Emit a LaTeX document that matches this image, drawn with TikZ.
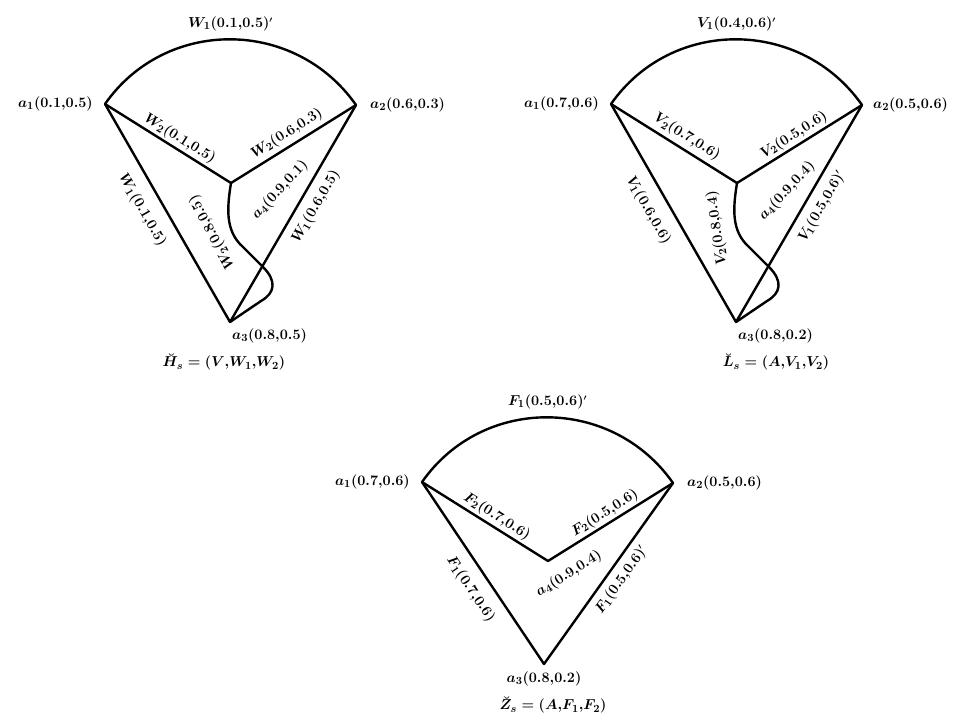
\documentclass[tikz,border=0pt]{standalone}
\usepackage{amsmath,amssymb}
\usetikzlibrary{positioning}
\tikzset{
  edge/.style={draw,line width=2.4pt,line cap=round,line join=round},
  lbl/.style={font=\fontsize{15.5}{17.5}\selectfont\boldmath,inner sep=2pt},
  captext/.style={lbl}
}
\newcommand{\pr}{^{\scriptscriptstyle\prime}}

\begin{document}
\begin{tikzpicture}[x=1pt,y=1pt]
\useasboundingbox (0,0) rectangle (957,-716);

% first graph: H_s
\begin{scope}[shift={(231,-183)}]
  \coordinate (h1) at (-126,79);
  \coordinate (h2) at (125,78);
  \coordinate (h3) at (-1,-139);
  \coordinate (h4) at (0,0);
  \draw[edge] (h1) to[out=55,in=125,looseness=1.08] node[lbl,midway,above=5pt] (h12) {$W_1(0.1{,}0.5)\pr$} (h2);
  \draw[edge] (h1) -- node[lbl,pos=.55,sloped,above] (h14) {$W_2(0.1{,}0.5)$} (h4);
  \draw[edge] (h4) -- node[lbl,pos=.5,sloped,above=2pt] (h42) {$W_2(0.6{,}0.3)$} (h2);
  \draw[edge] (h1) -- node[lbl,pos=.44,sloped,below=10pt] (h13) {$W_1(0.1{,}0.5)$} (h3);
  \draw[edge] (h3) -- node[lbl,pos=.57,sloped,below=6pt] (h32) {$W_1(0.6{,}0.5)$} (h2);
  \draw[edge] (h4) .. controls (-4,-25) and (-6,-48) .. (12,-64) -- (32,-84)
    .. controls (46,-98) and (44,-110) .. (30,-118) -- (h3);
  \node[lbl,rotate=118] (h43) at (-19,-49) {$W_2(0.8{,}0.5)$};
  \node[lbl,rotate=47] (h4l) at (49,-7) {$a_4(0.9{,}0.1)$};
  \node[lbl,left=10pt of h1] (h1l) {$a_1(0.1{,}0.5)$};
  \node[lbl,right=12pt of h2] (h2l) {$a_2(0.6{,}0.3)$};
  \node[lbl,below right=4pt and 0pt of h3] (h3l) {$a_3(0.8{,}0.5)$};
  \node[captext] (hcap) at (-7,-179) {$\breve{H}_s=(V{,}W_1{,}W_2)$};
\end{scope}

% second graph: L_s
\begin{scope}[shift={(737,-183)}]
  \coordinate (l1) at (-126,79);
  \coordinate (l2) at (125,78);
  \coordinate (l3) at (-1,-139);
  \coordinate (l4) at (0,0);
  \draw[edge] (l1) to[out=55,in=125,looseness=1.08] node[lbl,midway,above=5pt] (l12) {$V_1(0.4{,}0.6)\pr$} (l2);
  \draw[edge] (l1) -- node[lbl,pos=.55,sloped,above=2pt] (l14) {$V_2(0.7{,}0.6)$} (l4);
  \draw[edge] (l4) -- node[lbl,pos=.5,sloped,above] (l42) {$V_2(0.5{,}0.6)$} (l2);
  \draw[edge] (l1) -- node[lbl,pos=.44,sloped,below=10pt] (l13) {$V_1(0.6{,}0.6)$} (l3);
  \draw[edge] (l3) -- node[lbl,pos=.57,sloped,below=6pt] (l32) {$V_1(0.5{,}0.6)\pr$} (l2);
  \draw[edge] (l4) .. controls (-4,-25) and (-6,-48) .. (12,-64) -- (32,-84)
    .. controls (46,-98) and (44,-110) .. (30,-118) -- (l3);
  \node[lbl,rotate=98] (l43) at (-20,-45) {$V_2(0.8{,}0.4)$};
  \node[lbl,rotate=47] (l4l) at (50,-8) {$a_4(0.9{,}0.4)$};
  \node[lbl,left=10pt of l1] (l1l) {$a_1(0.7{,}0.6)$};
  \node[lbl,right=9pt of l2] (l2l) {$a_2(0.5{,}0.6)$};
  \node[lbl,below right=4pt and 0pt of l3] (l3l) {$a_3(0.8{,}0.2)$};
  \node[captext] (lcap) at (39,-179) {$\breve{L}_s=(A{,}V_1{,}V_2)$};
\end{scope}

% third graph: Z_s
\begin{scope}[shift={(548,-561)}]
  \coordinate (z1) at (-126,79);
  \coordinate (z2) at (125,78);
  \coordinate (z3) at (-4,-103);
  \coordinate (z4) at (0,0);
  \draw[edge] (z1) to[out=55,in=125,looseness=1.08] node[lbl,midway,above=5pt] (z12) {$F_1(0.5{,}0.6)\pr$} (z2);
  \draw[edge] (z1) -- node[lbl,pos=.55,sloped,above] (z14) {$F_2(0.7{,}0.6)$} (z4);
  \draw[edge] (z4) -- node[lbl,pos=.5,sloped,above] (z42) {$F_2(0.5{,}0.6)$} (z2);
  \draw[edge] (z1) -- node[lbl,pos=.53,sloped,below=9pt] (z13) {$F_1(0.7{,}0.6)$} (z3);
  \draw[edge] (z3) -- node[lbl,pos=.51,sloped,below=4pt] (z32) {$F_1(0.5{,}0.6)\pr$} (z2);
  \node[lbl,rotate=32] (z4l) at (21,-13) {$a_4(0.9{,}0.4)$};
  \node[lbl,left=10pt of z1] (z1l) {$a_1(0.7{,}0.6)$};
  \node[lbl,right=12pt of z2] (z2l) {$a_2(0.5{,}0.6)$};
  \node[lbl,below=5pt of z3] (z3l) {$a_3(0.8{,}0.2)$};
  \node[captext] (zcap) at (5,-144) {$\breve{Z}_s=(A{,}F_1{,}F_2)$};
\end{scope}
\end{tikzpicture}
\end{document}
